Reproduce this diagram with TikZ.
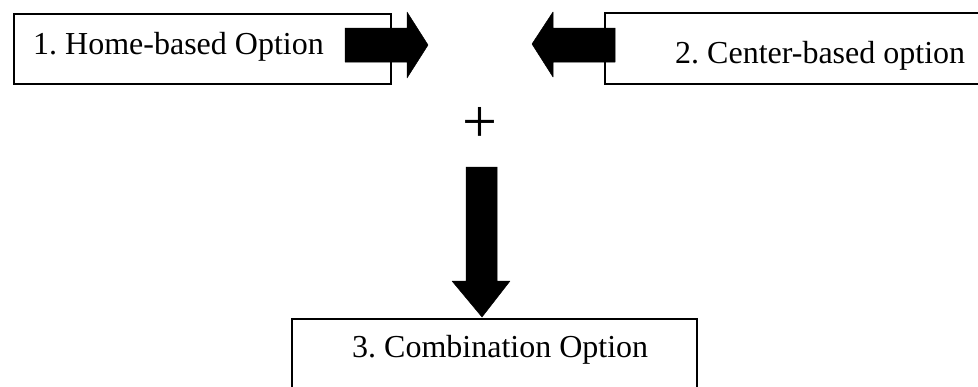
\documentclass[tikz,border=0pt]{standalone}
\usepackage{fontspec}
\setmainfont{Liberation Serif}
\frenchspacing
\begin{document}
\begin{tikzpicture}[x=1pt,y=-1pt,
  boxstyle/.style={draw=black, line width=1.8pt, inner sep=0pt, anchor=north west},
  lbl/.style={inner sep=0pt, anchor=base west, font=\fontsize{32}{38}\selectfont},
  blockarrow/.style={fill=black, draw=black, line width=0.5pt, line join=round}]
\useasboundingbox (0,0) rectangle (978,386);
\clip (0,0) rectangle (978,386);
% boxes
\node[boxstyle, minimum width=377pt, minimum height=70pt] (b1) at (13,13) {};
\node[boxstyle, minimum width=400pt, minimum height=71pt] (b2) at (604,12) {};
\node[boxstyle, minimum width=405pt, minimum height=90pt] (b3) at (291,318) {};
% labels
\node[lbl] (t1) at (33,54) {1. Home-based Option};
\node[lbl] (t2) at (675,63) {2. Center-based option};
\node[lbl] (t3) at (352,357) {3. Combination Option};
% plus
\node[inner sep=0pt, anchor=base, font=\fontsize{62}{62}\selectfont] (plus) at (480,142) {+};
% block arrows
\draw[blockarrow] (345,28) -- (407,28) -- (407,12) -- (428,45) -- (407,78) -- (407,62) -- (345,62) -- cycle;
\draw[blockarrow] (615,28) -- (553,28) -- (553,12) -- (532,44) -- (553,77) -- (553,62) -- (615,62) -- cycle;
\draw[blockarrow] (466,167) -- (497,167) -- (497,281) -- (510,281) -- (482,317) -- (452,281) -- (466,281) -- cycle;
\end{tikzpicture}
\end{document}
